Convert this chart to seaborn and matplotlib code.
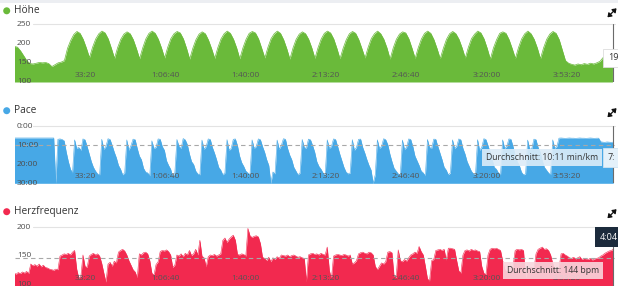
import numpy as np
import pandas as pd
import matplotlib
matplotlib.use("Agg")
import matplotlib.pyplot as plt
import seaborn as sns
from matplotlib.patches import Ellipse, Rectangle, FancyArrowPatch

sns.set_style("white")
plt.rcParams['font.family'] = ['Open Sans', 'DejaVu Sans']
plt.rcParams['axes.axisbelow'] = False

# ---------------- data ----------------
# elevation (m), one sample every 78 s starting at 239 s
ELEV_START_S = 239
ELEV_STEP_S = 78
elevation = [
    190, 188, 178, 165, 152, 144, 143, 145, 147, 146, 147, 144, 136, 141, 146, 148,
    152, 185, 206, 222, 230, 225, 209, 186,
    160, 188, 210, 224, 231, 226, 210, 185,
    158, 187, 209, 223, 229, 224, 208, 184,
    157, 186, 210, 225, 231, 225, 209, 186,
    159, 188, 211, 224, 230, 226, 210, 185,
    156, 185, 208, 223, 229, 224, 207, 184,
    158, 187, 210, 224, 231, 225, 209, 186,
    157, 186, 209, 225, 230, 226, 210, 185,
    159, 188, 211, 224, 231, 225, 208, 184,
    156, 186, 209, 223, 229, 224, 209, 186,
    158, 187, 210, 225, 231, 226, 210, 185,
    157, 185, 208, 224, 230, 225, 208, 184,
    159, 188, 211, 224, 231, 224, 209, 186,
    156, 186, 209, 223, 229, 226, 210, 185,
    158, 187, 210, 225, 231, 225, 208, 184,
    157, 185, 209, 224, 230, 224, 209, 186,
    159, 188, 211, 223, 231, 226, 210, 185,
    156, 186, 208, 225, 229, 225, 208, 184,
    158, 187, 210, 224, 231, 224, 209, 186,
    157, 186, 209, 223, 230, 225, 208, 180,
    152, 145, 142, 140, 143, 141, 144, 142, 145, 143, 146, 150, 160, 162, 163, 165,
]

# pace (min/km) and heart rate (bpm), one sample every 52 s starting at 233 s
PH_START_S = 233
PH_STEP_S = 52
pace_min = [
    6.5, 6.5, 6.5, 6.5, 6.5, 6.5, 6.5, 6.5, 6.5, 6.5,
    6.5, 6.5, 6.5, 6.5, 6.5, 6.5, 6.5, 6.5, 6.5, 6.5, 30.5,
    7.2, 7.0, 7.3, 8.0, 14, 19, 23, 25, 7.5, 12, 11.5, 13,
    7.0, 7.5, 11, 15, 19, 22, 24, 25.5, 26, 7.2, 12.5, 11,
    6.9, 7.3, 10.5, 14, 17, 21, 23, 26, 25, 7.5, 13, 10.5,
    7.1, 7.4, 12, 16, 18, 22.5, 24.5, 25, 26.5, 8.0, 12, 11.5,
    7.0, 7.2, 11, 13, 18.5, 21, 23, 27, 25, 7.3, 11, 12,
    6.8, 7.5, 10, 15, 19, 20.5, 24, 25.5, 26, 7.6, 12.5, 11,
    7.0, 7.3, 11.5, 14.5, 18, 22, 23.5, 26, 25, 7.4, 13, 12,
    7.2, 7.0, 10.5, 16, 19.5, 21.5, 24, 25, 26, 7.5, 12, 11,
    7.0, 7.4, 11, 14, 18, 21, 30.5, 24.5, 25.5, 7.6, 12.5, 10.5,
    6.9, 7.2, 12, 15.5, 18, 22, 24, 26, 25, 7.3, 11.5, 12,
    7.1, 7.5, 10.5, 14, 19, 21.5, 23, 25, 26.5, 7.5, 12, 11,
    7.0, 7.3, 11, 15, 18.5, 22, 24.5, 25.5, 25, 7.4, 13, 11.5,
    7.2, 7.1, 11.5, 14.5, 18, 21, 23.5, 30.5, 26, 7.5, 12, 11,
    6.9, 7.4, 10, 15, 19, 22.5, 24, 25.5, 26, 7.6, 12.5, 11.5,
    7.0, 7.3, 11, 16, 18.5, 21, 24, 25, 26.5, 7.3, 11.5, 12,
    7.1, 7.2, 11, 14.5, 18, 22, 23.5, 26, 25, 7.5, 12, 11,
    7.0, 7.5, 12, 15, 19, 21.5, 24, 25.5, 26, 7.4, 13, 11.5,
    6.9, 7.3, 10.5, 14, 18, 22, 23, 25, 26, 7.5, 12, 11,
    7.0, 7.2, 11, 15.5, 19, 21, 24.5, 26, 25.5, 7.6, 12.5, 12,
    7.1, 7.4, 11.5, 14, 18.5, 22, 23.5, 25, 26, 7.5, 12, 11,
    6.6, 6.5, 6.6, 6.7, 6.6, 6.5, 6.6, 6.6, 6.7, 6.6,
    6.5, 6.6, 6.6, 6.7, 6.6, 6.5, 6.6, 6.7, 6.6, 6.6,
    8.5, 8.7, 8.8, 8.6, 8.7, 8.8, 8.7,
]
heart_rate = [
    118, 116, 119, 117, 120, 118, 121, 117, 134, 131,
    133, 130, 134, 129, 132, 128, 127, 125, 124, 123,
    125, 124, 148, 150, 152, 151, 153, 150, 155, 158,
    125, 109, 112, 150, 130, 128, 148, 151, 153, 150,
    152, 148, 135, 118, 102, 134, 137, 130, 139, 136,
    155, 158, 160, 157, 150, 140, 132, 124, 120, 110,
    152, 150, 154, 155, 152, 140, 118, 114, 133, 138,
    156, 158, 157, 159, 156, 150, 128, 132, 150, 148,
    152, 147, 153, 150, 158, 149, 152, 160, 150, 176,
    148, 145, 129, 147, 150, 149, 151, 148, 150, 152,
    176, 180, 172, 178, 182, 185, 176, 151, 150, 152,
    151, 148, 197, 184, 181, 183, 184, 182, 170, 146,
    144, 140, 146, 138, 145, 142, 147, 144, 150, 149,
    148, 150, 147, 149, 150, 148, 146, 147, 145, 144,
    103, 150, 152, 153, 151, 152, 150, 153, 151, 150,
    164, 123, 107, 148, 150, 151, 150, 149, 151, 150,
    148, 150, 134, 136, 140, 152, 154, 155, 153, 152,
    155, 154, 150, 130, 124, 130, 136, 134, 138, 155,
    156, 154, 112, 110, 159, 140, 138, 142, 139, 145,
    150, 152, 155, 153, 165, 156, 150, 130, 108, 104,
    140, 142, 158, 159, 160, 158, 160, 141, 162, 162,
    161, 160, 140, 122, 118, 150, 158, 159, 157, 160,
    158, 159, 157, 156, 130, 118, 115, 150, 160, 162,
    161, 162, 160, 158, 140, 125, 120, 122, 121, 130,
    158, 160, 159, 160, 158, 110, 126, 127, 128, 125,
    152, 160, 162, 164, 160, 161, 158, 150, 135, 124,
    123, 126, 152, 153, 150, 148, 145, 144, 146, 143,
    145, 147, 142, 144, 143, 142, 144, 141, 143, 144,
    145, 148, 150, 153, 155, 157, 158, 160,
]

pace_avg = 10 + 11 / 60
hr_avg = 144

x_ticks = [2000, 4000, 6000, 8000, 10000, 12000, 14000]
x_tick_labels = ["33:20", "1:06:40", "1:40:00", "2:13:20", "2:46:40", "3:20:00", "3:53:20"]
elev_ticks = [100, 150, 200, 250]
pace_ticks = [0, 10, 20, 30]
pace_tick_labels = ["0:00", "10:00", "20:00", "30:00"]
hr_ticks = [100, 150, 200]

GREEN = "#6aba3a"
BLUE = "#47a8e6"
RED = "#f2294f"

t_elev = ELEV_START_S + ELEV_STEP_S * np.arange(len(elevation))
t_ph = PH_START_S + PH_STEP_S * np.arange(len(pace_min))
df_elev = pd.DataFrame({"t": t_elev, "v": elevation})
df_pace = pd.DataFrame({"t": t_ph, "v": pace_min})
df_hr = pd.DataFrame({"t": t_ph, "v": heart_rate})

W, H = 618, 287
fig = plt.figure(figsize=(W / 100, H / 100), dpi=100)
fig.patch.set_facecolor("white")
fig.add_artist(Rectangle((0, 1 - 2.5 / H), 1, 2.5 / H, transform=fig.transFigure,
                         facecolor="#eceef2", edgecolor="none"))

XLIM = (256.5, 15188)
CURSOR_T = 15163


def px_axes(left, top, right, bottom):
    return fig.add_axes([left / W, 1 - bottom / H, (right - left) / W, (bottom - top) / H])


def style(ax, ylim, yticks, ylabels, grid_y):
    ax.set_axisbelow(False)
    ax.set_xlim(*XLIM)
    ax.set_ylim(*ylim)
    for s in ax.spines.values():
        s.set_visible(False)
    ax.set_facecolor("none")
    ax.set_xticks(x_ticks)
    ax.set_xticklabels(x_tick_labels)
    ax.set_yticks(yticks)
    ax.set_yticklabels(ylabels)
    ax.tick_params(axis="y", length=0, pad=-1.5, labelsize=6, labelcolor="#4d4d4d")
    ax.tick_params(axis="x", length=0, pad=-7.5, labelsize=6, labelcolor="#555555")
    for lbl in ax.get_yticklabels():
        lbl.set_ha("left")
    ax.set_xlabel("")
    ax.set_ylabel("")
    ax.axhline(grid_y, xmin=0.03, xmax=1, color="#e3e3e3", lw=0.8, clip_on=False, zorder=0)
    ax.axvline(CURSOR_T, color="#6b6b6b", lw=0.8, zorder=4)


def expand_icon(y):
    # two-headed diagonal arrow (the ⤢ glyph is not in any installed font)
    arr = FancyArrowPatch((607.5 / W, 1 - (y + 5) / H), (616.5 / W, 1 - (y - 4) / H),
                          transform=fig.transFigure, arrowstyle="<|-|>,head_length=2.2,head_width=1.6",
                          color="#111111", lw=0.9, shrinkA=0, shrinkB=0)
    fig.add_artist(arr)


def header(y, label, color):
    fig.add_artist(Ellipse((6.7 / W, 1 - y / H), 7 / W, 7 / H, transform=fig.transFigure,
                           facecolor=color, edgecolor="none"))
    fig.text(14 / W, 1 - y / H, label, fontsize=7.3, color="#333333", va="center", ha="left")
    expand_icon(y + 1.5)


# ---- Höhe ----
ax1 = px_axes(15, 24, 614.5, 82)
ax1.fill_between(df_elev["t"], df_elev["v"], 94.7, color=GREEN, lw=0, zorder=1)
sns.lineplot(data=df_elev, x="t", y="v", ax=ax1, color=GREEN, lw=0.5, zorder=1.5)
style(ax1, (94.7, 250), elev_ticks, [str(v) for v in elev_ticks], 250)
header(10.8, "Höhe", GREEN)

# ---- Pace ----
ax2 = px_axes(15, 125.7, 614.5, 183.3)
ax2.fill_between(df_pace["t"], df_pace["v"], 30.5, color=BLUE, lw=0, zorder=1)
sns.lineplot(data=df_pace, x="t", y="v", ax=ax2, color=BLUE, lw=0.4, zorder=1.5)
style(ax2, (30.5, 0), pace_ticks, pace_tick_labels, 0)
ax2.axhline(pace_avg, color="#a8a8a8", lw=0.8, ls=(0, (4, 3)), zorder=3)
header(110.7, "Pace", BLUE)

# ---- Herzfrequenz ----
ax3 = px_axes(15, 226.7, 614.5, 285.5)
ax3.fill_between(df_hr["t"], df_hr["v"], 96, color=RED, lw=0, zorder=1)
sns.lineplot(data=df_hr, x="t", y="v", ax=ax3, color=RED, lw=0.4, zorder=1.5)
style(ax3, (96, 200), hr_ticks, [str(v) for v in hr_ticks], 200)
ax3.axhline(hr_avg, color="#a8a8a8", lw=0.8, ls=(0, (4, 3)), zorder=3)
header(211.7, "Herzfrequenz", RED)

# ---- tooltips ----
fig.text(608 / W, 1 - 58 / H, "19", fontsize=6.5, color="#333333", va="center", ha="left",
         bbox=dict(boxstyle="square,pad=0.55", fc="white", ec="#dddddd", lw=0.6))
fig.text(486 / W, 1 - 157.5 / H, "Durchschnitt: 10:11 min/km", fontsize=6.2, color="#333333",
         va="center", ha="left",
         bbox=dict(boxstyle="square,pad=0.5", fc="#dcecf8", ec="none", alpha=0.9))
fig.text(608 / W, 1 - 157.5 / H, "7:", fontsize=6.5, color="#333333", va="center", ha="left",
         bbox=dict(boxstyle="square,pad=0.55", fc="#e4f1fa", ec="#cfe3f2", lw=0.6))
fig.text(507 / W, 1 - 270.5 / H, "Durchschnitt: 144 bpm", fontsize=6.2, color="#333333",
         va="center", ha="left",
         bbox=dict(boxstyle="square,pad=0.5", fc="#f9d6dd", ec="none", alpha=0.9))
fig.text(600 / W, 1 - 237 / H, "4:04", fontsize=6.5, color="white", va="center", ha="left",
         bbox=dict(boxstyle="square,pad=0.6", fc="#1c2b3c", ec="none"))

fig.savefig("out.png", dpi=100)
